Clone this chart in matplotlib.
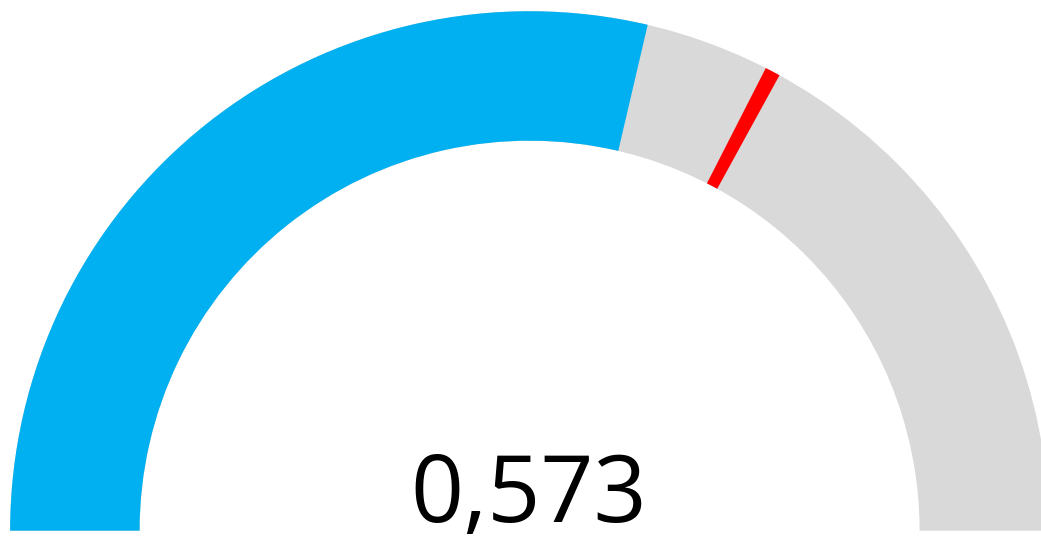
import matplotlib
matplotlib.use("Agg")
import matplotlib.pyplot as plt
from matplotlib.patches import Wedge

# ── gauge data ────────────────────────────────────────────────────────────────
gauge_min = 0.0
gauge_max = 1.0
value = 0.573
target = 0.655
marker_width = 0.0095   # width of target marker as a fraction of the range
value_label = "0,573"

# ── geometry (pixels) ─────────────────────────────────────────────────────────
W, H = 1041, 537
cx, cy = 529.6, H - 530.7
r_out, r_in = 519.5, 390.0

def to_angle(v):
    frac = (v - gauge_min) / (gauge_max - gauge_min)
    return 180.0 - 180.0 * frac

fig = plt.figure(figsize=(W / 100, H / 100), dpi=100)
ax = fig.add_axes([0, 0, 1, 1])
ax.set_xlim(0, W)
ax.set_ylim(0, H)
ax.set_aspect("equal")
ax.axis("off")

ring = r_out - r_in
# background (grey) arc, full range
ax.add_patch(Wedge((cx, cy), r_out, to_angle(gauge_max), to_angle(gauge_min),
                   width=ring, facecolor="#D9D9D9", edgecolor="none"))
# value arc (blue)
ax.add_patch(Wedge((cx, cy), r_out, to_angle(value), to_angle(gauge_min),
                   width=ring, facecolor="#00B0F0", edgecolor="none"))
# target marker (red)
ax.add_patch(Wedge((cx, cy), r_out, to_angle(target + marker_width / 2),
                   to_angle(target - marker_width / 2),
                   width=ring, facecolor="#FF0000", edgecolor="none"))

ax.text(cx - 1, 15, value_label, ha="center", va="baseline",
        fontsize=67, family="Open Sans", color="black")

fig.savefig("out.png", dpi=100)
